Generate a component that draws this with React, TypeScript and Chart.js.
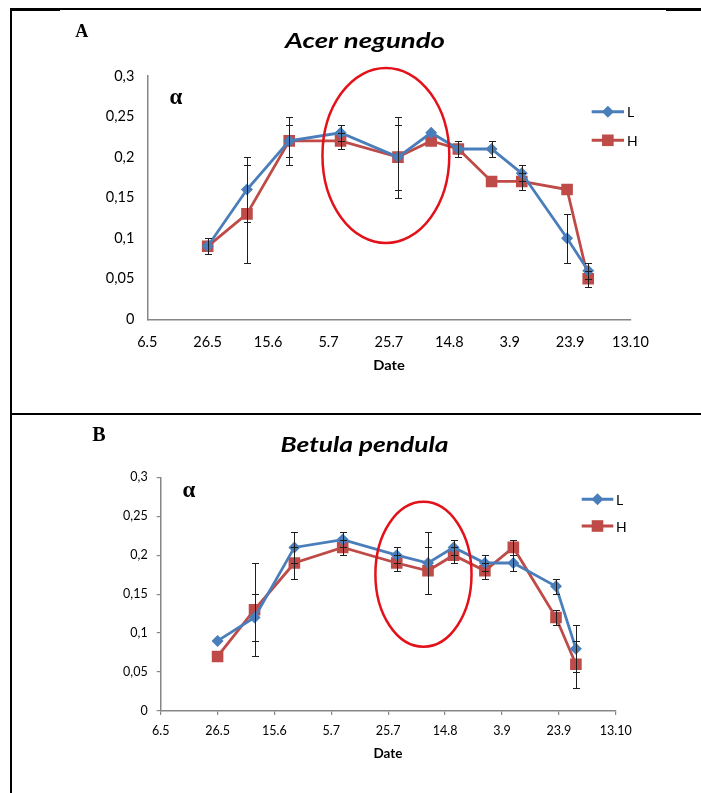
import React, { useEffect, useRef } from 'react';
import { Chart, registerables } from 'chart.js';

Chart.register(...registerables);

// ---------- data ----------
// x axis: days after 6 May, a major tick every 20 days
const xTickLabels = ['6.5', '26.5', '15.6', '5.7', '25.7', '14.8', '3.9', '23.9', '13.10'];
const yTickLabels = ['0', '0,05', '0,1', '0,15', '0,2', '0,25', '0,3'];
const sampleDays = [20, 33, 47, 64, 83, 94, 103, 114, 124, 139, 146];
const seriesNames = ['L', 'H'];

const acerL = [0.09, 0.16, 0.22, 0.23, 0.2, 0.23, 0.21, 0.21, 0.18, 0.1, 0.06];
const acerH = [0.09, 0.13, 0.22, 0.22, 0.2, 0.22, 0.21, 0.17, 0.17, 0.16, 0.05];
const acerErrL = [0.01, 0.04, 0.02, 0.01, 0.04, 0, 0.01, 0.01, 0.01, 0.03, 0.01];
const acerErrH = [0.01, 0.06, 0.03, 0.01, 0.05, 0, 0.01, 0, 0.01, 0, 0.01];
// highlight ellipse: centre day, centre value, half-width (days), half-height (value)
const acerHighlight = [79, 0.202, 21, 0.108];

const betulaL = [0.09, 0.12, 0.21, 0.22, 0.2, 0.19, 0.21, 0.19, 0.19, 0.16, 0.08];
const betulaH = [0.07, 0.13, 0.19, 0.21, 0.19, 0.18, 0.2, 0.18, 0.21, 0.12, 0.06];
const betulaErrL = [0, 0.03, 0.02, 0.01, 0.01, 0.04, 0.01, 0.01, 0.01, 0.01, 0.03];
const betulaErrH = [0, 0.06, 0.02, 0.01, 0.01, 0.03, 0.01, 0.01, 0.01, 0.01, 0.03];
const betulaHighlight = [92.4, 0.1756, 16.9, 0.093];

// ---------- styling ----------
const W = 701;
const COLORS = ['#4A7EBB', '#BE4B48'];
const AXIS = '#868686';

type Txt = { text: string; x: number; y: number; font: string; width?: number };
type Spec = {
  title: string;
  letter: string;
  top: number;
  height: number;
  area: { left: number; right: number; top: number; bottom: number };
  values: number[][];
  errors: number[][];
  highlight: number[];
  texts: Txt[];
  legend: { x0: number; x1: number; textX: number; lineY: number[]; baseY: number[]; font: string };
  tickSize: number;
  xPad: number;
  yPad: number;
  drawTicks: boolean;
};

const specs: Spec[] = [
  {
    title: 'Acer negundo',
    letter: 'A',
    top: 0,
    height: 412,
    area: { left: 147.3, right: 630.5, top: 76, bottom: 319.3 },
    values: [acerL, acerH],
    errors: [acerErrL, acerErrH],
    highlight: acerHighlight,
    texts: [],
    legend: { x0: 591.7, x1: 624, textX: 627, lineY: [111.7, 140.3], baseY: [116.7, 145.7], font: '14px Lato' },
    tickSize: 14.5,
    xPad: 14,
    yPad: 13,
    drawTicks: false,
  },
  {
    title: 'Betula pendula',
    letter: 'B',
    top: 416,
    height: 377,
    area: { left: 160.7, right: 615.7, top: 61.3, bottom: 295 },
    values: [betulaL, betulaH],
    errors: [betulaErrL, betulaErrH],
    highlight: betulaHighlight,
    texts: [],
    legend: { x0: 581.7, x1: 613.3, textX: 616, lineY: [83.3, 110], baseY: [89, 115.7], font: '14px Lato' },
    tickSize: 12.5,
    xPad: 8.5,
    yPad: 9,
    drawTicks: true,
  },
];

specs[0].texts = [
  { text: specs[0].letter, x: 81.7, y: 36.7, font: 'bold 18px "Liberation Serif"' },
  { text: specs[0].title, x: 365, y: 48.3, font: 'italic bold 21px Lato', width: 160 },
  { text: 'α', x: 176, y: 104, font: 'bold 23px "Liberation Serif"' },
  { text: 'Date', x: 389, y: 370, font: 'bold 13px Lato', width: 31.6 },
];
specs[1].texts = [
  { text: specs[1].letter, x: 98.8, y: 24.7, font: 'bold 20px "Liberation Serif"' },
  { text: specs[1].title, x: 364.5, y: 35.7, font: 'italic bold 21px Lato', width: 168 },
  { text: 'α', x: 189, y: 80.7, font: 'bold 23px "Liberation Serif"' },
  { text: 'Date', x: 388, y: 342.3, font: 'bold 13px Lato', width: 29 },
];

function drawText(ctx: CanvasRenderingContext2D, t: Txt, align: CanvasTextAlign = 'center') {
  ctx.save();
  ctx.font = t.font;
  ctx.fillStyle = '#000';
  ctx.textBaseline = 'alphabetic';
  ctx.textAlign = align;
  const w = ctx.measureText(t.text).width;
  const sx = t.width ? t.width / w : 1;
  ctx.translate(t.x, t.y);
  ctx.scale(sx, 1);
  ctx.fillText(t.text, 0, 0);
  ctx.restore();
}

function drawMarker(ctx: CanvasRenderingContext2D, i: number, x: number, y: number) {
  ctx.beginPath();
  if (i === 0) {
    const r = 6;
    ctx.moveTo(x - r, y);
    ctx.lineTo(x, y - r);
    ctx.lineTo(x + r, y);
    ctx.lineTo(x, y + r);
    ctx.closePath();
  } else {
    const h = 5.8;
    ctx.rect(x - h, y - h, 2 * h, 2 * h);
  }
  ctx.fillStyle = COLORS[i];
  ctx.fill();
}

const decorPlugin = {
  id: 'decor',
  afterDatasetsDraw(chart: any, _args: any, opts: any) {
    const spec: Spec = opts.spec;
    const { ctx } = chart;
    const x = chart.scales.x;
    const y = chart.scales.y;
    // error bars
    ctx.save();
    ctx.strokeStyle = '#1e1e1e';
    ctx.lineWidth = 1;
    chart.data.datasets.forEach((ds: any, i: number) => {
      ds.data.forEach((p: any, j: number) => {
        const e = spec.errors[i][j];
        if (!e) return;
        const px = Math.round(x.getPixelForValue(p.x)) + 0.5;
        const y1 = Math.round(y.getPixelForValue(p.y + e)) + 0.5;
        const y2 = Math.round(y.getPixelForValue(p.y - e)) + 0.5;
        ctx.beginPath();
        ctx.moveTo(px, y1);
        ctx.lineTo(px, y2);
        ctx.moveTo(px - 3.5, y1);
        ctx.lineTo(px + 3.5, y1);
        ctx.moveTo(px - 3.5, y2);
        ctx.lineTo(px + 3.5, y2);
        ctx.stroke();
      });
    });
    ctx.restore();
  },
  afterDraw(chart: any, _args: any, opts: any) {
    const spec: Spec = opts.spec;
    const { ctx } = chart;
    const x = chart.scales.x;
    const y = chart.scales.y;
    // highlight ellipse
    const [cd, cv, hd, hv] = spec.highlight;
    const cx = x.getPixelForValue(cd);
    const cy = y.getPixelForValue(cv);
    const rx = x.getPixelForValue(cd + hd) - cx;
    const ry = cy - y.getPixelForValue(cv + hv);
    ctx.save();
    ctx.beginPath();
    ctx.ellipse(cx, cy, rx, ry, 0, 0, Math.PI * 2);
    ctx.strokeStyle = '#E3121A';
    ctx.lineWidth = 2.5;
    ctx.stroke();
    ctx.restore();
    // texts
    spec.texts.forEach((t) => drawText(ctx, t));
    // legend
    const lg = spec.legend;
    seriesNames.forEach((name, i) => {
      ctx.save();
      ctx.strokeStyle = COLORS[i];
      ctx.lineWidth = 3;
      ctx.beginPath();
      ctx.moveTo(lg.x0, lg.lineY[i]);
      ctx.lineTo(lg.x1, lg.lineY[i]);
      ctx.stroke();
      drawMarker(ctx, i, (lg.x0 + lg.x1) / 2, lg.lineY[i]);
      ctx.restore();
      drawText(ctx, { text: name, x: lg.textX, y: lg.baseY[i], font: lg.font }, 'left');
    });
  },
};

function Panel({ spec }: { spec: Spec }) {
  const ref = useRef<HTMLCanvasElement | null>(null);
  useEffect(() => {
    if (!ref.current) return;
    const a = spec.area;
    const tickFont = { family: 'Lato', size: spec.tickSize };
    const chart = new Chart(ref.current, {
      type: 'line',
      data: {
        datasets: seriesNames.map((name, i) => ({
          label: name,
          data: sampleDays.map((d, j) => ({ x: d, y: spec.values[i][j] })),
          borderColor: COLORS[i],
          backgroundColor: COLORS[i],
          borderWidth: 2.8,
          pointStyle: i === 0 ? 'rectRot' : 'rect',
          pointRadius: i === 0 ? 6 : 8.2,
          pointBorderWidth: 0,
          pointBackgroundColor: COLORS[i],
          tension: 0,
          fill: false,
        })),
      },
      options: {
        animation: false,
        responsive: false,
        maintainAspectRatio: false,
        layout: { padding: { left: 0, top: a.top, right: W - a.right, bottom: 0 } },
        plugins: {
          legend: { display: false },
          title: { display: false },
          tooltip: { enabled: false },
          decor: { spec },
        } as any,
        scales: {
          x: {
            type: 'linear',
            min: 0,
            max: 160,
            afterBuildTicks: (s: any) => {
              s.ticks = xTickLabels.map((_, i) => ({ value: i * 20 }));
            },
            afterFit: (s: any) => {
              s.height = spec.height - a.bottom;
            },
            ticks: {
              callback: (_v: any, i: number) => xTickLabels[i],
              font: tickFont,
              color: '#000',
              padding: spec.xPad,
              autoSkip: false,
              maxRotation: 0,
            },
            grid: { display: true, drawOnChartArea: false, drawTicks: spec.drawTicks, tickLength: 4, color: AXIS, lineWidth: 1.2 },
            border: { display: true, color: AXIS, width: 1.5 },
          },
          y: {
            type: 'linear',
            min: 0,
            max: 0.3,
            afterBuildTicks: (s: any) => {
              s.ticks = yTickLabels.map((_, i) => ({ value: i * 0.05 }));
            },
            afterFit: (s: any) => {
              s.width = a.left;
            },
            ticks: {
              callback: (_v: any, i: number) => yTickLabels[i],
              font: tickFont,
              color: '#000',
              padding: spec.yPad,
            },
            grid: { display: true, drawOnChartArea: false, drawTicks: spec.drawTicks, tickLength: 4, color: AXIS, lineWidth: 1.2 },
            border: { display: true, color: AXIS, width: 1.5 },
          },
        },
      } as any,
      plugins: [decorPlugin as any],
    });
    return () => chart.destroy();
  }, [spec]);
  return (
    <canvas
      ref={ref}
      width={W}
      height={spec.height}
      style={{ position: 'absolute', left: 0, top: spec.top, width: W, height: spec.height }}
    />
  );
}

const line = (left: number, top: number, width: number, height: number) => (
  <div style={{ position: 'absolute', left, top, width, height, background: '#000' }} />
);

export default function App() {
  return (
    <div style={{ position: 'absolute', left: 0, top: 0, width: W, height: 793, background: '#fff', overflow: 'hidden' }}>
      {specs.map((s) => (
        <Panel key={s.letter} spec={s} />
      ))}
      {line(10, 8, 691, 1.5)}
      {line(10, 8, 50, 2.5)}
      {line(666, 8, 35, 2.5)}
      {line(10, 8, 2, 785)}
      {line(10, 413, 691, 1.5)}
      {line(10, 412.5, 68, 2.5)}
      {line(650, 412.5, 51, 2.5)}
    </div>
  );
}
